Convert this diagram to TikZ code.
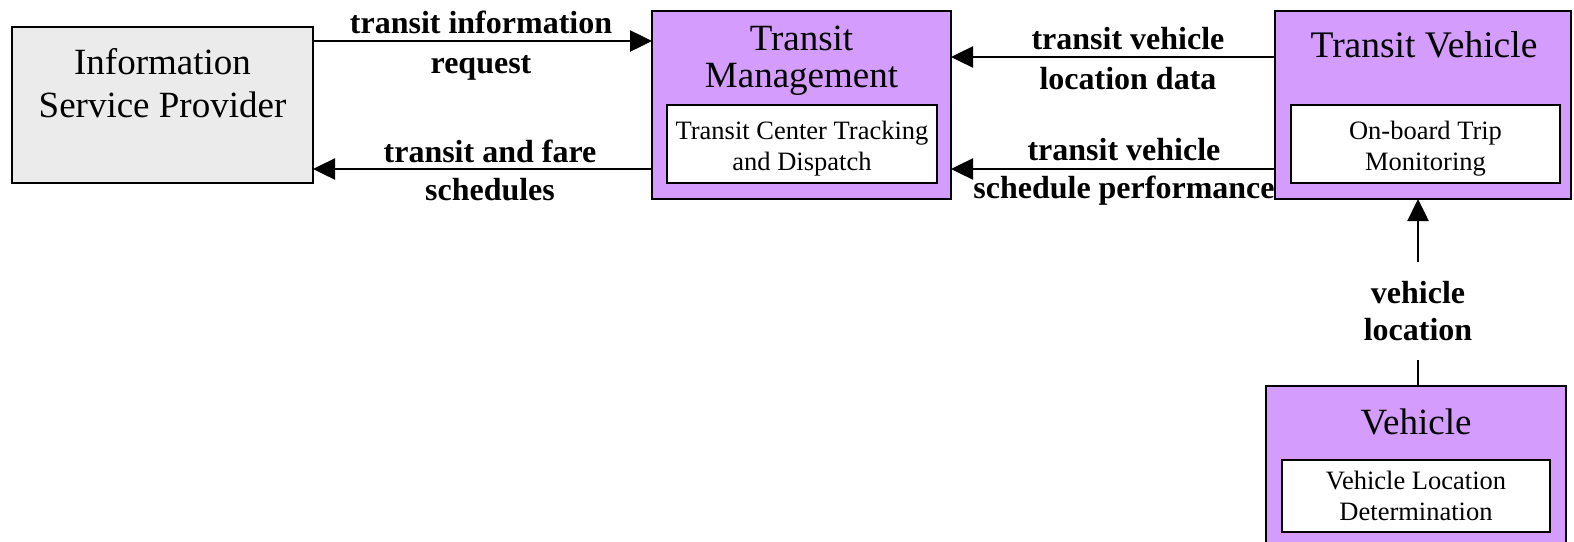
\documentclass[tikz,border=0pt]{standalone}
\usepackage{fontspec}
\setmainfont{Liberation Serif}
\usetikzlibrary{arrows.meta}
\definecolor{purp}{HTML}{D49CFC}
\definecolor{gry}{HTML}{EBEBEB}
\begin{document}
\begin{tikzpicture}[x=1pt,y=-1pt,
  outerbox/.style={draw,line width=2pt,inner sep=0pt,outer sep=0pt,anchor=north west},
  innerbox/.style={draw,fill=white,line width=2pt,inner sep=0pt,outer sep=0pt,anchor=north west},
  innertext/.style={align=center,inner sep=0pt,font=\fontsize{26.5}{31}\selectfont},
  titletext/.style={align=center,inner sep=0pt},
  flowlabel/.style={align=center,inner sep=0pt,font=\fontsize{32}{40}\selectfont\bfseries},
  arr/.style={line width=2.5pt,-{Triangle[length=22pt,width=21pt]}}]
\useasboundingbox (0,0) rectangle (1574,541);
% boxes
\node[outerbox,fill=gry,minimum width=301pt,minimum height=156pt] (isp) at (12,27) {};
\node[titletext,font=\fontsize{37}{43}\selectfont] (ispt) at (162.5,83) {Information\\Service Provider};
\node[outerbox,fill=purp,minimum width=299pt,minimum height=188pt] (tm) at (652,11) {};
\node[titletext,font=\fontsize{37}{37}\selectfont] (tmt) at (801.5,61) {Transit\\Management};
\node[innerbox,minimum width=270pt,minimum height=78pt] (tmi) at (667,105) {};
\node[innertext] (tmit) at (tmi.center) [yshift=-5pt] {Transit Center Tracking\\and Dispatch};
\node[outerbox,fill=purp,minimum width=296pt,minimum height=188pt] (tv) at (1275,11) {};
\node[titletext,font=\fontsize{37.5}{37}\selectfont] (tvt) at (1424,45) {Transit Vehicle};
\node[innerbox,minimum width=269pt,minimum height=78pt] (tvi) at (1291,105) {};
\node[innertext] (tvit) at (tvi.center) [yshift=-5pt] {On-board Trip\\Monitoring};
\node[outerbox,fill=purp,minimum width=300pt,minimum height=170pt] (veh) at (1266,386) {};
\node[titletext,font=\fontsize{37}{37}\selectfont] (veht) at (1416,422) {Vehicle};
\node[innerbox,minimum width=268pt,minimum height=72pt] (vehi) at (1282,460) {};
\node[innertext] (vehit) at (vehi.center) {Vehicle Location\\Determination};
% connectors
\coordinate (y1) at (0,41);
\coordinate (y2) at (0,169);
\coordinate (y3) at (0,57);
\draw[arr] (isp.east |- y1) -- (tm.west |- y1);
\node[flowlabel] (l1) at (481,46) {transit information\\request};
\draw[arr] (tm.west |- y2) -- (isp.east |- y2);
\node[flowlabel,font=\fontsize{32}{38}\selectfont\bfseries] (l2) at (490,170) {transit and fare\\schedules};
\draw[arr] (tv.west |- y3) -- (tm.east |- y3);
\node[flowlabel] (l3) at (1128,59) {transit vehicle\\location data};
\draw[arr] (tv.west |- y2) -- (tm.east |- y2);
\node[flowlabel,font=\fontsize{32}{38}\selectfont\bfseries] (l4) at (1124,172) {transit vehicle\\schedule performance};
\node[flowlabel,font=\fontsize{32}{37}\selectfont\bfseries,minimum height=98pt] (l5) at (1418,311) {vehicle\\location};
\draw[line width=2.5pt] (veh.north -| l5.south) -- (l5.south);
\draw[arr] (l5.north) -- (l5.north |- tv.south);
\end{tikzpicture}
\end{document}
